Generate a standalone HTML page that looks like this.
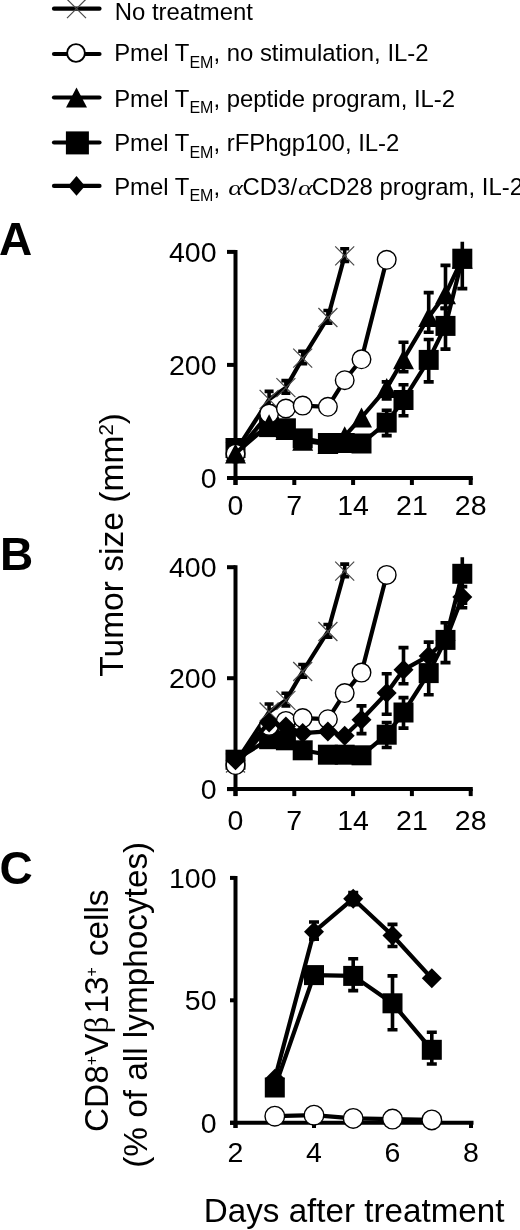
<!DOCTYPE html>
<html><head><meta charset="utf-8"><style>
html,body{margin:0;padding:0;background:#fff;}
body{width:520px;height:1230px;overflow:hidden;}
svg{display:block;font-family:"Liberation Sans", sans-serif;will-change:transform;}
text{fill:#000;}
</style></head><body>
<svg width="520" height="1230" viewBox="0 0 520 1230">
<line x1="54" y1="8.65" x2="99.5" y2="8.65" stroke="#000" stroke-width="4.2" stroke-linecap="round"/>
<line x1="54" y1="54" x2="99.5" y2="54" stroke="#000" stroke-width="4.2" stroke-linecap="round"/>
<line x1="54" y1="97.5" x2="99.5" y2="97.5" stroke="#000" stroke-width="4.2" stroke-linecap="round"/>
<line x1="54" y1="142.5" x2="99.5" y2="142.5" stroke="#000" stroke-width="4.2" stroke-linecap="round"/>
<line x1="54" y1="185.9" x2="99.5" y2="185.9" stroke="#000" stroke-width="4.2" stroke-linecap="round"/>
<path d="M67.0,-0.8L86.0,18.1M86.0,-0.8L67.0,18.1" stroke="#4a4a4a" stroke-width="1.2" fill="none"/>
<circle cx="76.0" cy="53.0" r="8.9" fill="#fff" stroke="#000" stroke-width="1.9"/>
<polygon points="76.5,87.6 87.0,107.6 66.0,107.6" fill="#000"/>
<rect x="65.9" y="131.4" width="23" height="23" fill="#000"/>
<polygon points="76.5,176.1 85.0,185.9 76.5,195.7 68.0,185.9" fill="#000"/>
<text x="114.8" y="19.6" font-size="23.9" text-anchor="start" font-weight="normal" >No treatment</text>
<text x="114.2" y="61" font-size="23.9">Pmel T<tspan font-size="16" dy="6.5">EM</tspan><tspan dy="-6.5">, no stimulation, IL-2</tspan></text>
<text x="114.2" y="106.8" font-size="23.9">Pmel T<tspan font-size="16" dy="6.5">EM</tspan><tspan dy="-6.5">, peptide program, IL-2</tspan></text>
<text x="114.2" y="151.3" font-size="23.9">Pmel T<tspan font-size="16" dy="6.5">EM</tspan><tspan dy="-6.5">, rFPhgp100, IL-2</tspan></text>
<text x="114.2" y="194.8" font-size="23.9">Pmel T<tspan font-size="16" dy="6.5">EM</tspan><tspan dy="-6.5">, </tspan></text>
<text transform="translate(228.3,194.8) scale(1.27,1)" font-size="22" font-family="Liberation Serif" font-style="italic">&#945;</text>
<text x="242.6" y="194.8" font-size="23.9" text-anchor="start" font-weight="normal" >CD3/</text>
<text transform="translate(298.0,194.8) scale(1.27,1)" font-size="22" font-family="Liberation Serif" font-style="italic">&#945;</text>
<text x="311.8" y="194.8" font-size="23.9" text-anchor="start" font-weight="normal" >CD28 program, IL-2</text>
<text x="-1" y="254.6" font-size="46" text-anchor="start" font-weight="bold" >A</text>
<text x="0" y="569.8" font-size="46" text-anchor="start" font-weight="bold" >B</text>
<text x="-0.5" y="883.5" font-size="46" text-anchor="start" font-weight="bold" >C</text>
<path d="M235.5,249.9 V485" stroke="#000" stroke-width="4" fill="none"/>
<path d="M227,251.9 H235.5" stroke="#000" stroke-width="4"/>
<path d="M227,364.9 H235.5" stroke="#000" stroke-width="4"/>
<path d="M227,478.0 H235.5" stroke="#000" stroke-width="4"/>
<path d="M227,478 H472.8" stroke="#000" stroke-width="4"/>
<path d="M235.5,478 V485" stroke="#000" stroke-width="4"/>
<text x="235.5" y="514.5" font-size="28.5" text-anchor="middle" font-weight="normal" >0</text>
<path d="M294.3,478 V485" stroke="#000" stroke-width="4"/>
<text x="294.3" y="514.5" font-size="28.5" text-anchor="middle" font-weight="normal" >7</text>
<path d="M353.1,478 V485" stroke="#000" stroke-width="4"/>
<text x="353.1" y="514.5" font-size="28.5" text-anchor="middle" font-weight="normal" >14</text>
<path d="M411.9,478 V485" stroke="#000" stroke-width="4"/>
<text x="411.9" y="514.5" font-size="28.5" text-anchor="middle" font-weight="normal" >21</text>
<path d="M470.7,478 V485" stroke="#000" stroke-width="4"/>
<text x="470.7" y="514.5" font-size="28.5" text-anchor="middle" font-weight="normal" >28</text>
<text x="216.5" y="261.9" font-size="28.5" text-anchor="end" font-weight="normal" >400</text>
<text x="216.5" y="374.9" font-size="28.5" text-anchor="end" font-weight="normal" >200</text>
<text x="216.5" y="488.0" font-size="28.5" text-anchor="end" font-weight="normal" >0</text>
<path d="M235.5,565.2 V796.1" stroke="#000" stroke-width="4" fill="none"/>
<path d="M227,567.2 H235.5" stroke="#000" stroke-width="4"/>
<path d="M227,678.2 H235.5" stroke="#000" stroke-width="4"/>
<path d="M227,789.1 H235.5" stroke="#000" stroke-width="4"/>
<path d="M227,789.1 H472.8" stroke="#000" stroke-width="4"/>
<path d="M235.5,789.1 V796.1" stroke="#000" stroke-width="4"/>
<text x="235.5" y="830.1" font-size="28.5" text-anchor="middle" font-weight="normal" >0</text>
<path d="M294.3,789.1 V796.1" stroke="#000" stroke-width="4"/>
<text x="294.3" y="830.1" font-size="28.5" text-anchor="middle" font-weight="normal" >7</text>
<path d="M353.1,789.1 V796.1" stroke="#000" stroke-width="4"/>
<text x="353.1" y="830.1" font-size="28.5" text-anchor="middle" font-weight="normal" >14</text>
<path d="M411.9,789.1 V796.1" stroke="#000" stroke-width="4"/>
<text x="411.9" y="830.1" font-size="28.5" text-anchor="middle" font-weight="normal" >21</text>
<path d="M470.7,789.1 V796.1" stroke="#000" stroke-width="4"/>
<text x="470.7" y="830.1" font-size="28.5" text-anchor="middle" font-weight="normal" >28</text>
<text x="216.5" y="577.2" font-size="28.5" text-anchor="end" font-weight="normal" >400</text>
<text x="216.5" y="688.2" font-size="28.5" text-anchor="end" font-weight="normal" >200</text>
<text x="216.5" y="799.1" font-size="28.5" text-anchor="end" font-weight="normal" >0</text>
<text transform="translate(122.8,676.8) rotate(-90)" font-size="33.6">Tumor size (mm<tspan font-size="20.5" dy="-9.5">2</tspan><tspan dy="9.5">)</tspan></text>
<polyline points="235.5,451.4 269.1,399.4 285.9,387.6 302.7,358.2 327.9,317.5 344.7,255.8" fill="none" stroke="#000" stroke-width="4.2" stroke-linejoin="round" stroke-linecap="butt"/>
<path d="M235.5,444.4V457.0M231.0,444.4H240.0M231.0,457.0H240.0" stroke="#000" stroke-width="3.6" fill="none"/>
<path d="M269.1,391.4V405.8M264.6,391.4H273.6M264.6,405.8H273.6" stroke="#000" stroke-width="3.6" fill="none"/>
<path d="M285.9,380.6V393.2M281.4,380.6H290.4M281.4,393.2H290.4" stroke="#000" stroke-width="3.6" fill="none"/>
<path d="M302.7,351.2V363.8M298.2,351.2H307.2M298.2,363.8H307.2" stroke="#000" stroke-width="3.6" fill="none"/>
<path d="M327.9,310.5V323.1M323.4,310.5H332.4M323.4,323.1H332.4" stroke="#000" stroke-width="3.6" fill="none"/>
<path d="M344.7,248.8V261.4M340.2,248.8H349.2M340.2,261.4H349.2" stroke="#000" stroke-width="3.6" fill="none"/>
<path d="M226.0,441.9L245.0,460.9M245.0,441.9L226.0,460.9" stroke="#4a4a4a" stroke-width="1.2" fill="none"/>
<path d="M259.6,389.9L278.6,408.9M278.6,389.9L259.6,408.9" stroke="#4a4a4a" stroke-width="1.2" fill="none"/>
<path d="M276.4,378.1L295.4,397.1M295.4,378.1L276.4,397.1" stroke="#4a4a4a" stroke-width="1.2" fill="none"/>
<path d="M293.2,348.7L312.2,367.7M312.2,348.7L293.2,367.7" stroke="#4a4a4a" stroke-width="1.2" fill="none"/>
<path d="M318.4,308.0L337.4,327.0M337.4,308.0L318.4,327.0" stroke="#4a4a4a" stroke-width="1.2" fill="none"/>
<path d="M335.2,246.3L354.2,265.3M354.2,246.3L335.2,265.3" stroke="#4a4a4a" stroke-width="1.2" fill="none"/>
<polyline points="235.5,448.0 269.1,427.1 285.9,428.3 302.7,438.4 327.9,443.0 344.7,443.0 361.5,443.5 386.7,422.6 403.5,400.0 428.7,359.9 445.5,325.9 462.3,258.7" fill="none" stroke="#000" stroke-width="4.2" stroke-linejoin="round" stroke-linecap="butt"/>
<path d="M386.7,410.2V435.6M381.7,410.2H391.7M381.7,435.6H391.7" stroke="#000" stroke-width="3.6" fill="none"/>
<path d="M403.5,384.7V415.8M398.5,384.7H408.5M398.5,415.8H408.5" stroke="#000" stroke-width="3.6" fill="none"/>
<path d="M428.7,339.5V381.9M423.7,339.5H433.7M423.7,381.9H433.7" stroke="#000" stroke-width="3.6" fill="none"/>
<path d="M445.5,308.4V349.1M440.5,308.4H450.5M440.5,349.1H450.5" stroke="#000" stroke-width="3.6" fill="none"/>
<path d="M462.3,241.7V288.6M457.3,288.6H467.3" stroke="#000" stroke-width="3.6" fill="none"/>
<rect x="225.5" y="438.0" width="20" height="20" fill="#000"/>
<rect x="259.1" y="417.1" width="20" height="20" fill="#000"/>
<rect x="275.9" y="418.3" width="20" height="20" fill="#000"/>
<rect x="292.7" y="428.4" width="20" height="20" fill="#000"/>
<rect x="317.9" y="433.0" width="20" height="20" fill="#000"/>
<rect x="334.7" y="433.0" width="20" height="20" fill="#000"/>
<rect x="351.5" y="433.5" width="20" height="20" fill="#000"/>
<rect x="376.7" y="412.6" width="20" height="20" fill="#000"/>
<rect x="393.5" y="390.0" width="20" height="20" fill="#000"/>
<rect x="418.7" y="349.9" width="20" height="20" fill="#000"/>
<rect x="435.5" y="315.9" width="20" height="20" fill="#000"/>
<rect x="452.3" y="248.7" width="20" height="20" fill="#000"/>
<polyline points="235.5,453.7 269.1,413.6 285.9,408.5 302.7,405.6 327.9,406.8 344.7,380.2 361.5,359.3 386.7,259.8" fill="none" stroke="#000" stroke-width="4.2" stroke-linejoin="round" stroke-linecap="butt"/>
<circle cx="235.5" cy="453.7" r="9.3" fill="#fff" stroke="#000" stroke-width="1.4"/>
<circle cx="269.1" cy="413.6" r="9.3" fill="#fff" stroke="#000" stroke-width="1.4"/>
<circle cx="285.9" cy="408.5" r="9.3" fill="#fff" stroke="#000" stroke-width="1.4"/>
<circle cx="302.7" cy="405.6" r="9.3" fill="#fff" stroke="#000" stroke-width="1.4"/>
<circle cx="327.9" cy="406.8" r="9.3" fill="#fff" stroke="#000" stroke-width="1.4"/>
<circle cx="344.7" cy="380.2" r="9.3" fill="#fff" stroke="#000" stroke-width="1.4"/>
<circle cx="361.5" cy="359.3" r="9.3" fill="#fff" stroke="#000" stroke-width="1.4"/>
<circle cx="386.7" cy="259.8" r="9.3" fill="#fff" stroke="#000" stroke-width="1.4"/>
<polyline points="235.5,453.4 269.1,424.3 285.9,429.9 302.7,440.7 327.9,444.1 344.7,436.2 361.5,417.5 386.7,388.1 403.5,359.3 428.7,316.9 445.5,294.3 462.3,258.7" fill="none" stroke="#000" stroke-width="4.2" stroke-linejoin="round" stroke-linecap="butt"/>
<path d="M386.7,381.9V398.9M381.7,381.9H391.7M381.7,398.9H391.7" stroke="#000" stroke-width="3.6" fill="none"/>
<path d="M403.5,342.3V371.7M398.5,342.3H408.5M398.5,371.7H408.5" stroke="#000" stroke-width="3.6" fill="none"/>
<path d="M428.7,292.6V332.2M423.7,292.6H433.7M423.7,332.2H433.7" stroke="#000" stroke-width="3.6" fill="none"/>
<path d="M445.5,265.4V308.4M440.5,265.4H450.5M440.5,308.4H450.5" stroke="#000" stroke-width="3.6" fill="none"/>
<polygon points="235.5,443.4 246.0,463.4 225.0,463.4" fill="#000"/>
<polygon points="269.1,414.3 279.6,434.3 258.6,434.3" fill="#000"/>
<polygon points="285.9,419.9 296.4,439.9 275.4,439.9" fill="#000"/>
<polygon points="302.7,430.7 313.2,450.7 292.2,450.7" fill="#000"/>
<polygon points="327.9,434.1 338.4,454.1 317.4,454.1" fill="#000"/>
<polygon points="344.7,426.2 355.2,446.2 334.2,446.2" fill="#000"/>
<polygon points="361.5,407.5 372.0,427.5 351.0,427.5" fill="#000"/>
<polygon points="386.7,378.1 397.2,398.1 376.2,398.1" fill="#000"/>
<polygon points="403.5,349.3 414.0,369.3 393.0,369.3" fill="#000"/>
<polygon points="428.7,306.9 439.2,326.9 418.2,326.9" fill="#000"/>
<polygon points="445.5,284.3 456.0,304.3 435.0,304.3" fill="#000"/>
<polygon points="462.3,248.7 472.8,268.7 451.8,268.7" fill="#000"/>
<polyline points="235.5,763.0 269.1,712.0 285.9,700.3 302.7,671.5 327.9,631.5 344.7,571.1" fill="none" stroke="#000" stroke-width="4.2" stroke-linejoin="round" stroke-linecap="butt"/>
<path d="M235.5,756.0V768.6M231.0,756.0H240.0M231.0,768.6H240.0" stroke="#000" stroke-width="3.6" fill="none"/>
<path d="M269.1,704.0V718.4M264.6,704.0H273.6M264.6,718.4H273.6" stroke="#000" stroke-width="3.6" fill="none"/>
<path d="M285.9,693.3V705.9M281.4,693.3H290.4M281.4,705.9H290.4" stroke="#000" stroke-width="3.6" fill="none"/>
<path d="M302.7,664.5V677.1M298.2,664.5H307.2M298.2,677.1H307.2" stroke="#000" stroke-width="3.6" fill="none"/>
<path d="M327.9,624.5V637.1M323.4,624.5H332.4M323.4,637.1H332.4" stroke="#000" stroke-width="3.6" fill="none"/>
<path d="M344.7,564.1V576.7M340.2,564.1H349.2M340.2,576.7H349.2" stroke="#000" stroke-width="3.6" fill="none"/>
<path d="M226.0,753.5L245.0,772.5M245.0,753.5L226.0,772.5" stroke="#4a4a4a" stroke-width="1.2" fill="none"/>
<path d="M259.6,702.5L278.6,721.5M278.6,702.5L259.6,721.5" stroke="#4a4a4a" stroke-width="1.2" fill="none"/>
<path d="M276.4,690.8L295.4,709.8M295.4,690.8L276.4,709.8" stroke="#4a4a4a" stroke-width="1.2" fill="none"/>
<path d="M293.2,662.0L312.2,681.0M312.2,662.0L293.2,681.0" stroke="#4a4a4a" stroke-width="1.2" fill="none"/>
<path d="M318.4,622.0L337.4,641.0M337.4,622.0L318.4,641.0" stroke="#4a4a4a" stroke-width="1.2" fill="none"/>
<path d="M335.2,561.6L354.2,580.6M354.2,561.6L335.2,580.6" stroke="#4a4a4a" stroke-width="1.2" fill="none"/>
<polyline points="235.5,759.7 269.1,739.2 285.9,740.3 302.7,750.3 327.9,754.7 344.7,754.7 361.5,755.3 386.7,734.7 403.5,712.5 428.7,673.1 445.5,639.9 462.3,573.8" fill="none" stroke="#000" stroke-width="4.2" stroke-linejoin="round" stroke-linecap="butt"/>
<path d="M386.7,722.5V747.5M381.7,722.5H391.7M381.7,747.5H391.7" stroke="#000" stroke-width="3.6" fill="none"/>
<path d="M403.5,697.6V728.1M398.5,697.6H408.5M398.5,728.1H408.5" stroke="#000" stroke-width="3.6" fill="none"/>
<path d="M428.7,653.2V694.8M423.7,653.2H433.7M423.7,694.8H433.7" stroke="#000" stroke-width="3.6" fill="none"/>
<path d="M445.5,622.7V662.6M440.5,622.7H450.5M440.5,662.6H450.5" stroke="#000" stroke-width="3.6" fill="none"/>
<path d="M462.3,557.2V603.2M457.3,603.2H467.3" stroke="#000" stroke-width="3.6" fill="none"/>
<rect x="225.5" y="749.7" width="20" height="20" fill="#000"/>
<rect x="259.1" y="729.2" width="20" height="20" fill="#000"/>
<rect x="275.9" y="730.3" width="20" height="20" fill="#000"/>
<rect x="292.7" y="740.3" width="20" height="20" fill="#000"/>
<rect x="317.9" y="744.7" width="20" height="20" fill="#000"/>
<rect x="334.7" y="744.7" width="20" height="20" fill="#000"/>
<rect x="351.5" y="745.3" width="20" height="20" fill="#000"/>
<rect x="376.7" y="724.7" width="20" height="20" fill="#000"/>
<rect x="393.5" y="702.5" width="20" height="20" fill="#000"/>
<rect x="418.7" y="663.1" width="20" height="20" fill="#000"/>
<rect x="435.5" y="629.9" width="20" height="20" fill="#000"/>
<rect x="452.3" y="563.8" width="20" height="20" fill="#000"/>
<polyline points="235.5,765.2 269.1,725.9 285.9,720.9 302.7,718.1 327.9,719.2 344.7,693.1 361.5,672.6 386.7,574.9" fill="none" stroke="#000" stroke-width="4.2" stroke-linejoin="round" stroke-linecap="butt"/>
<circle cx="235.5" cy="765.2" r="9.3" fill="#fff" stroke="#000" stroke-width="1.4"/>
<circle cx="269.1" cy="725.9" r="9.3" fill="#fff" stroke="#000" stroke-width="1.4"/>
<circle cx="285.9" cy="720.9" r="9.3" fill="#fff" stroke="#000" stroke-width="1.4"/>
<circle cx="302.7" cy="718.1" r="9.3" fill="#fff" stroke="#000" stroke-width="1.4"/>
<circle cx="327.9" cy="719.2" r="9.3" fill="#fff" stroke="#000" stroke-width="1.4"/>
<circle cx="344.7" cy="693.1" r="9.3" fill="#fff" stroke="#000" stroke-width="1.4"/>
<circle cx="361.5" cy="672.6" r="9.3" fill="#fff" stroke="#000" stroke-width="1.4"/>
<circle cx="386.7" cy="574.9" r="9.3" fill="#fff" stroke="#000" stroke-width="1.4"/>
<polyline points="235.5,760.3 269.1,722.5 285.9,726.4 302.7,733.1 327.9,731.4 344.7,735.8 361.5,719.8 386.7,693.1 403.5,669.8 428.7,655.9 445.5,640.4 462.3,597.1" fill="none" stroke="#000" stroke-width="4.2" stroke-linejoin="round" stroke-linecap="butt"/>
<path d="M361.5,705.9V733.6M356.5,705.9H366.5M356.5,733.6H366.5" stroke="#000" stroke-width="3.6" fill="none"/>
<path d="M386.7,673.7V714.2M381.7,673.7H391.7M381.7,714.2H391.7" stroke="#000" stroke-width="3.6" fill="none"/>
<path d="M403.5,647.6V683.7M398.5,647.6H408.5M398.5,683.7H408.5" stroke="#000" stroke-width="3.6" fill="none"/>
<path d="M428.7,642.1V669.8M423.7,642.1H433.7M423.7,669.8H433.7" stroke="#000" stroke-width="3.6" fill="none"/>
<path d="M462.3,586.6V607.7M457.3,586.6H467.3M457.3,607.7H467.3" stroke="#000" stroke-width="3.6" fill="none"/>
<polygon points="235.5,750.3 245.5,760.3 235.5,770.3 225.5,760.3" fill="#000"/>
<polygon points="269.1,712.5 279.1,722.5 269.1,732.5 259.1,722.5" fill="#000"/>
<polygon points="285.9,716.4 295.9,726.4 285.9,736.4 275.9,726.4" fill="#000"/>
<polygon points="302.7,723.1 312.7,733.1 302.7,743.1 292.7,733.1" fill="#000"/>
<polygon points="327.9,721.4 337.9,731.4 327.9,741.4 317.9,731.4" fill="#000"/>
<polygon points="344.7,725.8 354.7,735.8 344.7,745.8 334.7,735.8" fill="#000"/>
<polygon points="361.5,709.8 371.5,719.8 361.5,729.8 351.5,719.8" fill="#000"/>
<polygon points="386.7,683.1 396.7,693.1 386.7,703.1 376.7,693.1" fill="#000"/>
<polygon points="403.5,659.8 413.5,669.8 403.5,679.8 393.5,669.8" fill="#000"/>
<polygon points="428.7,645.9 438.7,655.9 428.7,665.9 418.7,655.9" fill="#000"/>
<polygon points="445.5,630.4 455.5,640.4 445.5,650.4 435.5,640.4" fill="#000"/>
<polygon points="462.3,587.1 472.3,597.1 462.3,607.1 452.3,597.1" fill="#000"/>
<path d="M235.5,876 V1128" stroke="#000" stroke-width="4" fill="none"/>
<path d="M230,877.9 H235.5" stroke="#000" stroke-width="4"/>
<text x="216.5" y="887.9" font-size="28.5" text-anchor="end" font-weight="normal" >100</text>
<path d="M230,1000.3 H235.5" stroke="#000" stroke-width="4"/>
<text x="216.5" y="1010.3" font-size="28.5" text-anchor="end" font-weight="normal" >50</text>
<path d="M230,1122.8 H235.5" stroke="#000" stroke-width="4"/>
<text x="216.5" y="1132.8" font-size="28.5" text-anchor="end" font-weight="normal" >0</text>
<path d="M230,1122.8 H473.5" stroke="#000" stroke-width="4"/>
<path d="M235.5,1122.8 V1128" stroke="#000" stroke-width="4"/>
<text x="235.5" y="1162" font-size="28.5" text-anchor="middle" font-weight="normal" >2</text>
<path d="M314.0,1122.8 V1128" stroke="#000" stroke-width="4"/>
<text x="314.0" y="1162" font-size="28.5" text-anchor="middle" font-weight="normal" >4</text>
<path d="M392.5,1122.8 V1128" stroke="#000" stroke-width="4"/>
<text x="392.5" y="1162" font-size="28.5" text-anchor="middle" font-weight="normal" >6</text>
<path d="M471.0,1122.8 V1128" stroke="#000" stroke-width="4"/>
<text x="471.0" y="1162" font-size="28.5" text-anchor="middle" font-weight="normal" >8</text>
<polyline points="274.8,1087.5 314.0,975.1 353.2,975.9 392.5,1003.3 431.8,1049.8" fill="none" stroke="#000" stroke-width="4.2" stroke-linejoin="round" stroke-linecap="butt"/>
<path d="M353.2,958.7V990.6M348.2,958.7H358.2M348.2,990.6H358.2" stroke="#000" stroke-width="3.6" fill="none"/>
<path d="M392.5,975.9V1029.7M387.5,975.9H397.5M387.5,1029.7H397.5" stroke="#000" stroke-width="3.6" fill="none"/>
<path d="M431.8,1032.2V1064.0M426.8,1032.2H436.8M426.8,1064.0H436.8" stroke="#000" stroke-width="3.6" fill="none"/>
<rect x="264.8" y="1077.5" width="20" height="20" fill="#000"/>
<rect x="304.0" y="965.1" width="20" height="20" fill="#000"/>
<rect x="343.2" y="965.9" width="20" height="20" fill="#000"/>
<rect x="382.5" y="993.3" width="20" height="20" fill="#000"/>
<rect x="421.8" y="1039.8" width="20" height="20" fill="#000"/>
<polyline points="274.8,1078.7 314.0,931.8 353.2,898.7 392.5,935.5 431.8,978.3" fill="none" stroke="#000" stroke-width="4.2" stroke-linejoin="round" stroke-linecap="butt"/>
<path d="M314.0,922.0V939.1M309.0,922.0H319.0M309.0,939.1H319.0" stroke="#000" stroke-width="3.6" fill="none"/>
<path d="M353.2,892.6V904.8M348.2,892.6H358.2M348.2,904.8H358.2" stroke="#000" stroke-width="3.6" fill="none"/>
<path d="M392.5,924.4V946.5M387.5,924.4H397.5M387.5,946.5H397.5" stroke="#000" stroke-width="3.6" fill="none"/>
<polygon points="274.8,1068.7 284.8,1078.7 274.8,1088.7 264.8,1078.7" fill="#000"/>
<polygon points="314.0,921.8 324.0,931.8 314.0,941.8 304.0,931.8" fill="#000"/>
<polygon points="353.2,888.7 363.2,898.7 353.2,908.7 343.2,898.7" fill="#000"/>
<polygon points="392.5,925.5 402.5,935.5 392.5,945.5 382.5,935.5" fill="#000"/>
<polygon points="431.8,968.3 441.8,978.3 431.8,988.3 421.8,978.3" fill="#000"/>
<polyline points="274.8,1116.2 314.0,1115.2 353.2,1118.4 392.5,1119.1 431.8,1119.9" fill="none" stroke="#000" stroke-width="4.2" stroke-linejoin="round" stroke-linecap="butt"/>
<circle cx="274.8" cy="1116.2" r="9.8" fill="#fff" stroke="#000" stroke-width="1.4"/>
<circle cx="314.0" cy="1115.2" r="9.8" fill="#fff" stroke="#000" stroke-width="1.4"/>
<circle cx="353.2" cy="1118.4" r="9.8" fill="#fff" stroke="#000" stroke-width="1.4"/>
<circle cx="392.5" cy="1119.1" r="9.8" fill="#fff" stroke="#000" stroke-width="1.4"/>
<circle cx="431.8" cy="1119.9" r="9.8" fill="#fff" stroke="#000" stroke-width="1.4"/>
<text transform="translate(107.5,1132) rotate(-90)" font-size="33.4">CD8<tspan font-size="16" dy="-10.4">+</tspan><tspan dy="10.4">V</tspan><tspan font-family="Liberation Serif">&#946;</tspan><tspan dx="3">13</tspan><tspan font-size="16" dy="-10.4">+</tspan><tspan dy="10.4" dx="1.5"> cells</tspan></text>
<text transform="translate(146.5,1167.8) rotate(-90)" font-size="33.35">(% of all lymphocytes)</text>
<text x="203.8" y="1222.3" font-size="33.2" text-anchor="start" font-weight="normal" >Days after treatment</text>
</svg>
</body></html>
